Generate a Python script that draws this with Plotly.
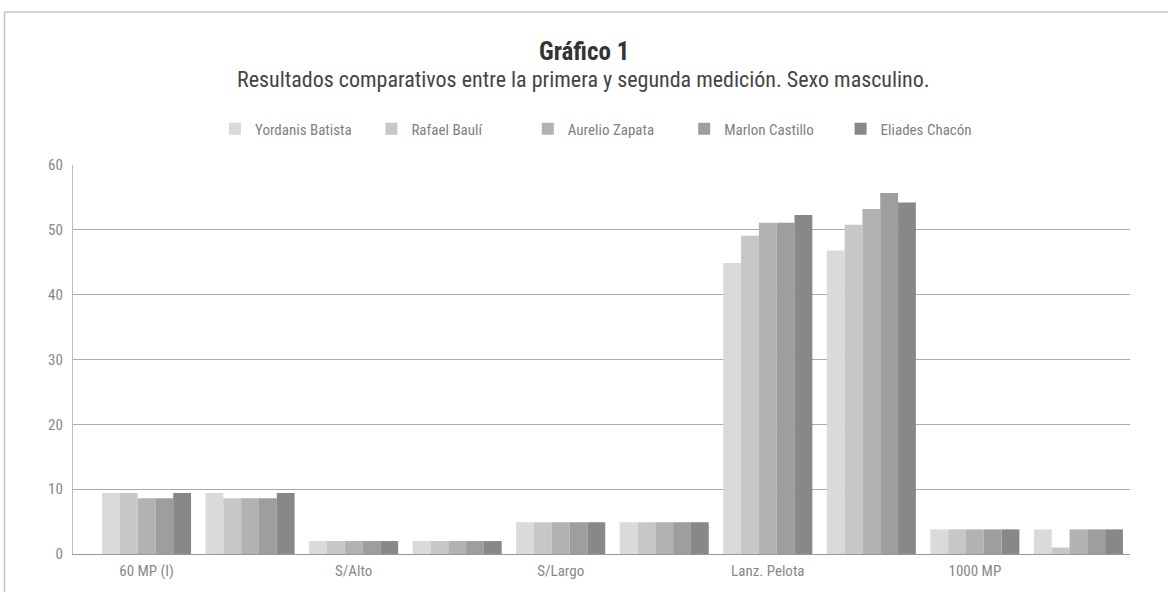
import plotly.graph_objects as go

tests = ["60 MP (I)", "S/Alto", "S/Largo", "Lanz. Pelota", "1000 MP"]
# two measurements per test (1ª y 2ª medición) -> 10 groups
group_pos = list(range(10))
tick_pos = [0, 2, 4, 6, 8]

athletes = ["Yordanis Batista", "Rafael Baulí", "Aurelio Zapata", "Marlon Castillo", "Eliades Chacón"]
yordanis = [9.4, 9.4, 2.0, 2.0, 4.9, 4.9, 44.9, 46.8, 3.8, 3.8]
rafael   = [9.4, 8.6, 2.0, 2.0, 4.9, 4.9, 49.1, 50.8, 3.8, 1.0]
aurelio  = [8.6, 8.6, 2.0, 2.0, 4.9, 4.9, 51.1, 53.2, 3.8, 3.8]
marlon   = [8.6, 8.6, 2.0, 2.0, 4.9, 4.9, 51.1, 55.7, 3.8, 3.8]
eliades  = [9.4, 9.4, 2.0, 2.0, 4.9, 4.9, 52.3, 54.2, 3.8, 3.8]
series = [yordanis, rafael, aurelio, marlon, eliades]
colors = ["#d9dadc", "#c6c7c9", "#b1b2b4", "#9d9ea0", "#87888a"]

FONT = "Liberation Sans Narrow, Roboto Condensed, Open Sans, sans-serif"

fig = go.Figure()
for name, vals, col in zip(athletes, series, colors):
    fig.add_trace(go.Bar(x=group_pos, y=vals, name=name, marker=dict(color=col, line=dict(width=0))))

# plot area: x 73..1130, y 165..554
L, R, T, B = 73, 1130, 165, 554
W, H = R - L, B - T
def px(p):
    return (p - L) / W
def py(p):
    return (B - p) / H

fig.update_layout(
    width=1168, height=592,
    margin=dict(l=L, r=1168 - R, t=T, b=592 - B),
    paper_bgcolor="white", plot_bgcolor="white",
    barmode="group", bargap=0.14, bargroupgap=0,
    font=dict(family=FONT, color="#777777", size=14),
    showlegend=True,
    legend=dict(orientation="h", x=px(215), xanchor="left", y=py(129), yanchor="middle",
                entrywidth=111.4, entrywidthmode="pixels", itemwidth=30,
                font=dict(size=15, color="#808080", family=FONT), traceorder="normal"),
    xaxis=dict(range=[-0.71, 9.498], tickvals=tick_pos, ticktext=tests, showgrid=False,
               showline=True, linecolor="#999999", linewidth=1.2, ticks="outside", ticklen=3,
               tickcolor="rgba(0,0,0,0)", zeroline=False,
               tickfont=dict(size=15, color="#888888")),
    yaxis=dict(range=[0, 60], dtick=10, showgrid=True, gridcolor="#aaaaaa", gridwidth=1.2,
               showline=True, linecolor="#bbbbbb", linewidth=1.2, zeroline=False, ticks="",
               ticklabelstandoff=6, tickfont=dict(size=15, color="#888888")),
    annotations=[
        dict(text="<b>Gráfico 1</b>", x=px(584), xref="paper", y=py(51), yref="paper",
             xanchor="center", yanchor="middle", showarrow=False,
             font=dict(size=25, color="#333333", family=FONT)),
        dict(text="Resultados comparativos entre la primera y segunda medición. Sexo masculino.",
             x=px(583), xref="paper", y=py(80), yref="paper", xanchor="center", yanchor="middle",
             showarrow=False, font=dict(size=22, color="#444444", family=FONT)),
    ],
    shapes=[
        dict(type="line", xref="paper", yref="paper", x0=px(4.5), x1=px(1168), y0=py(12), y1=py(12),
             line=dict(color="#c4c4c4", width=1.5)),
        dict(type="line", xref="paper", yref="paper", x0=px(4.5), x1=px(4.5), y0=py(12), y1=py(592),
             line=dict(color="#c4c4c4", width=1.5)),
    ],
)

fig.write_html("out.html", config={"displayModeBar": False},
               post_script="document.body.style.margin='0';")
